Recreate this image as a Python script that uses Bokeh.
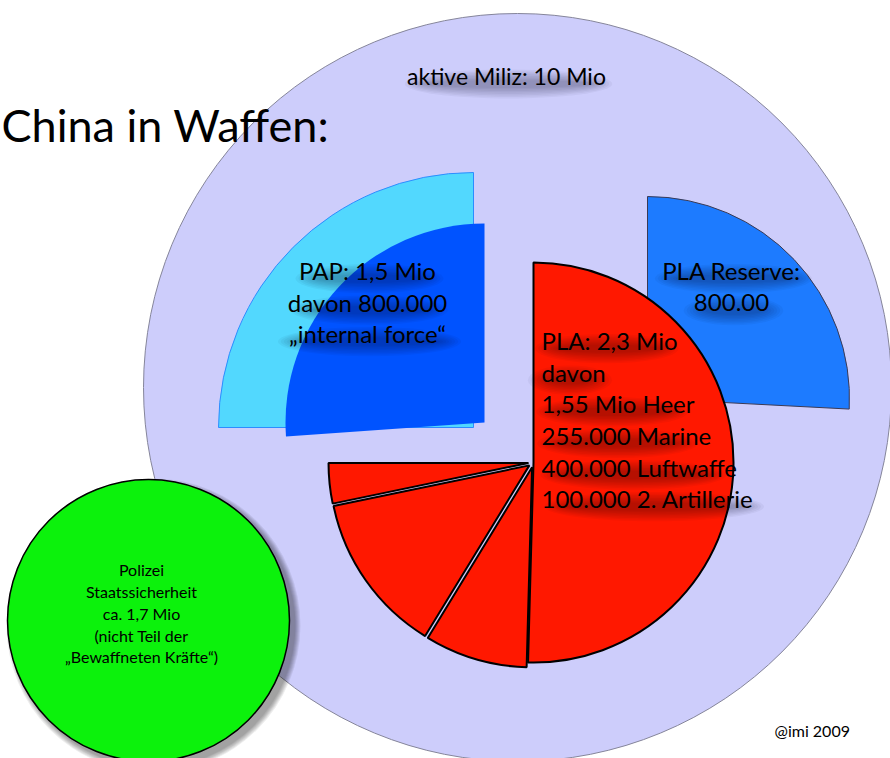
import math
from bokeh.plotting import figure
from bokeh.models import ColumnDataSource, Range1d
from bokeh.core.properties import value
from bokeh.embed import file_html
from bokeh.resources import INLINE

# ---------------- data ----------------
title = "China in Waffen:"
militia_label = "aktive Miliz: 10 Mio"
militia_value = 10.0
pap_total = 1.5
pap_internal = 0.8
pap_lines = ["PAP: 1,5 Mio", "davon 800.000", "„internal force“"]
reserve_value = 0.8
reserve_lines = ["PLA Reserve:", "800.00"]
pla_parts = ["Heer", "Marine", "Luftwaffe", "2. Artillerie"]
pla_values = [1.55, 0.255, 0.40, 0.10]
pla_lines = ["PLA: 2,3 Mio", "davon", "1,55 Mio Heer", "255.000 Marine",
             "400.000 Luftwaffe", "100.000 2. Artillerie"]
police_value = 1.7
police_lines = ["Polizei", "Staatssicherheit", "ca. 1,7 Mio", "(nicht Teil der",
                "„Bewaffneten Kräfte“)"]
credit = "@imi 2009"

# ---------------- layout ----------------
W, H = 890, 758
FONT = "Lato"


def Y(sy):
    return H - sy


p = figure(width=W, height=H, x_range=Range1d(0, W), y_range=Range1d(0, H),
           output_backend="svg", toolbar_location=None, min_border=0,
           x_axis_location=None, y_axis_location=None)
p.grid.visible = False
p.outline_line_color = None
p.background_fill_color = "white"
p.border_fill_color = "white"

# big militia circle
p.circle(x=[517], y=[Y(387)], radius=374, fill_color="#cdcdfb",
         line_color="#85859a", line_width=1)

# PAP wedges (total and internal force)
p.wedge(x=[473], y=[Y(427)], radius=255, start_angle=90, end_angle=180,
        start_angle_units="deg", end_angle_units="deg",
        fill_color="#52d8fe", line_color="#2d8cff", line_width=1)
p.wedge(x=[484], y=[Y(422)], radius=199, start_angle=90, end_angle=184,
        start_angle_units="deg", end_angle_units="deg",
        fill_color="#0053ff", line_color=None)

# PLA reserve wedge
p.wedge(x=[647], y=[Y(398)], radius=202, start_angle=-3, end_angle=90,
        start_angle_units="deg", end_angle_units="deg",
        fill_color="#1d7bff", line_color="#3a3a55", line_width=1)

# PLA pie (3/4 circle), clockwise from top
cx, cy, r = 533, Y(462), 200
span = 270.0
total = sum(pla_values)
starts, ends, xs, ys = [], [], [], []
a = 90.0
for i, v in enumerate(pla_values):
    ang = v / total * span
    e = a
    s = a - ang
    mid = math.radians((s + e) / 2)
    off = 0 if i == 0 else 5
    xs.append(cx + off * math.cos(mid))
    ys.append(cy + off * math.sin(mid))
    starts.append(s)
    ends.append(e)
    a = s
src = ColumnDataSource(dict(x=xs, y=ys, s=starts, e=ends, name=pla_parts))
p.wedge(x="x", y="y", radius=r, start_angle="s", end_angle="e",
        start_angle_units="deg", end_angle_units="deg", source=src,
        fill_color="#ff1800", line_color="black", line_width=2)

# police circle with soft shadow
gx, gy, gr = 148, Y(620), 141
for k in range(6):
    p.circle(x=[gx + 5], y=[gy - 5], radius=gr + 1 + k, fill_color="black",
             fill_alpha=0.07, line_color=None)
p.circle(x=[gx], y=[gy], radius=gr, fill_color="#0cf20c", line_color="black",
         line_width=1.5)

BASE_SHIFT = 0.41  # compensate renderer baseline offset


def shadows(lines, x, y0, dy, size, align, wf=0.5):
    sx, sy, sw, sh = [], [], [], []
    for i, t in enumerate(lines):
        w = len(t) * size * wf
        c = x if align == "center" else x + w / 2
        sx.append(c + 2)
        sy.append(Y(y0 + i * dy - 0.33 * size + 6))
        sw.append(w * 0.8)
        sh.append(size * 0.35)
    for k in range(8):
        p.ellipse(x=sx, y=sy, width=[w + 6 * k for w in sw],
                  height=[h + 3 * k for h in sh], fill_color="#000010",
                  fill_alpha=0.04, line_color=None)


def text_block(lines, x, y0, dy, size, align):
    ys_ = [Y(y0 + i * dy - BASE_SHIFT * size) for i in range(len(lines))]
    p.text(x=[x] * len(lines), y=ys_, text=lines, text_font=value(FONT),
           text_font_size=value(f"{size}px"), text_align=align,
           text_baseline="alphabetic", text_color="black")


shadows([militia_label], 506, 85, 0, 23, "center", 0.45)
shadows(pap_lines, 367, 280, 31.5, 24, "center", 0.46)
shadows(reserve_lines, 731, 280, 32, 24, "center", 0.5)
shadows(pla_lines, 541, 350, 31.6, 24, "left", 0.44)

text_block([title], 1, 143, 0, 45, "left")
text_block([militia_label], 506, 85, 0, 23, "center")
text_block(pap_lines, 367, 280, 31.5, 24, "center")
text_block(reserve_lines, 731, 280, 32, 24, "center")
text_block(pla_lines, 541, 350, 31.6, 24, "left")
text_block(police_lines, 141, 576, 21.7, 16, "center")
text_block([credit], 774, 737, 0, 16, "left")

open("out.html", "w").write(file_html(p, INLINE))
